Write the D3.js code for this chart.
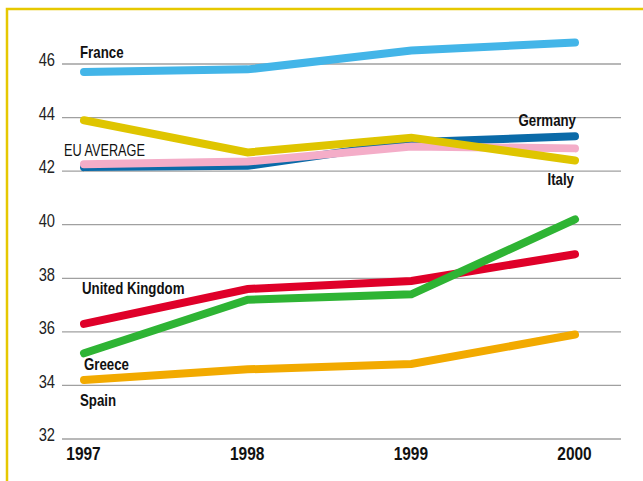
<!DOCTYPE html>
<html>
<head>
<meta charset="utf-8">
<script src="https://cdn.jsdelivr.net/npm/d3@7"></script>
<style>
  html, body { margin: 0; padding: 0; background: #fff; }
  svg { display: block; }
</style>
</head>
<body>
<svg id="chart" width="643" height="481"></svg>
<script>
// Years on the x axis
const years = [1997, 1998, 1999, 2000];
// Y axis tick values
const yTicks = [32, 34, 36, 38, 40, 42, 44, 46];

// Series values, one array per country
const france  = [45.7, 45.8, 46.5, 46.8];
const germany = [42.15, 42.2, 43.08, 43.3];
const euAverage = [42.26, 42.36, 42.92, 42.85];
const italy   = [43.9, 42.7, 43.25, 42.4];
const uk      = [36.3, 37.6, 37.9, 38.9];
const greece  = [35.2, 37.2, 37.4, 40.2];
const spain   = [34.2, 34.6, 34.8, 35.9];

const series = [
  { name: "Germany", values: germany, color: "#0a6aa8" },
  { name: "EU AVERAGE", values: euAverage, color: "#f4adc8" },
  { name: "Italy", values: italy, color: "#dfc500" },
  { name: "United Kingdom", values: uk, color: "#df0029" },
  { name: "Greece", values: greece, color: "#2eb434" },
  { name: "Spain", values: spain, color: "#f2aa00" },
  { name: "France", values: france, color: "#43b5e8" }
];

const svg = d3.select("#chart");
// Narrow grotesque look: Liberation Sans squeezed horizontally
const font = "'Liberation Sans', Arial, sans-serif";

// Frame: yellow rule along the top and left edges
svg.append("path")
  .attr("d", "M7,481 L7,9 L643,9")
  .attr("fill", "none")
  .attr("stroke", "#e6c800")
  .attr("stroke-width", 2.5);

const x = d3.scalePoint().domain(years).range([84, 575]);
const y = d3.scaleLinear().domain([32, 46]).range([439, 64]);

// Horizontal gridlines
svg.append("g")
  .selectAll("line")
  .data(yTicks)
  .join("line")
  .attr("x1", 62).attr("x2", 621)
  .attr("y1", d => y(d)).attr("y2", d => y(d))
  .attr("stroke", "#a0a0a0")
  .attr("stroke-width", 1.3);

// Y axis labels
const yAxis = svg.append("g")
  .attr("transform", "translate(55,0)")
  .call(d3.axisLeft(y).tickValues(yTicks).tickSize(0).tickPadding(0));
yAxis.select(".domain").remove();
yAxis.selectAll("text")
  .attr("x", 0)
  .attr("transform", "scale(0.84,1)")
  .attr("font-family", font)
  .attr("font-size", 17.5)
  .attr("fill", "#222")
  .attr("dy", "0.1em");

// X axis labels
const xAxis = svg.append("g")
  .attr("transform", "translate(-1,446)")
  .call(d3.axisBottom(x).tickValues(years).tickSize(0).tickPadding(0));
xAxis.select(".domain").remove();
xAxis.selectAll("text")
  .attr("transform", "scale(0.86,1)")
  .attr("font-family", font)
  .attr("font-size", 18)
  .attr("font-weight", "bold")
  .attr("fill", "#111")
  .attr("dy", "0.75em");

// Lines
const line = d3.line()
  .x((d, i) => x(years[i]))
  .y(d => y(d));

svg.append("g")
  .selectAll("path")
  .data(series)
  .join("path")
  .attr("d", d => line(d.values))
  .attr("fill", "none")
  .attr("stroke", d => d.color)
  .attr("stroke-width", 8)
  .attr("stroke-linecap", "round")
  .attr("stroke-linejoin", "miter");

// Series labels
const labels = [
  { text: "France", x: 80, y: 58, anchor: "start", bold: true },
  { text: "Germany", x: 576, y: 126, anchor: "end", bold: true },
  { text: "EU AVERAGE", x: 64, y: 156, anchor: "start", bold: false },
  { text: "Italy", x: 574, y: 185, anchor: "end", bold: true },
  { text: "United Kingdom", x: 82, y: 294, anchor: "start", bold: true },
  { text: "Greece", x: 84, y: 370, anchor: "start", bold: true },
  { text: "Spain", x: 80, y: 406, anchor: "start", bold: true }
];

svg.append("g")
  .selectAll("text")
  .data(labels)
  .join("text")
  .attr("transform", d => `translate(${d.x},${d.y}) scale(${d.bold ? 0.83 : 0.77},1)`)
  .attr("text-anchor", d => d.anchor)
  .attr("font-family", font)
  .attr("font-size", d => d.bold ? 16 : 16.5)
  .attr("font-weight", d => d.bold ? "bold" : "normal")
  .attr("fill", "#111")
  .text(d => d.text);
</script>
</body>
</html>
